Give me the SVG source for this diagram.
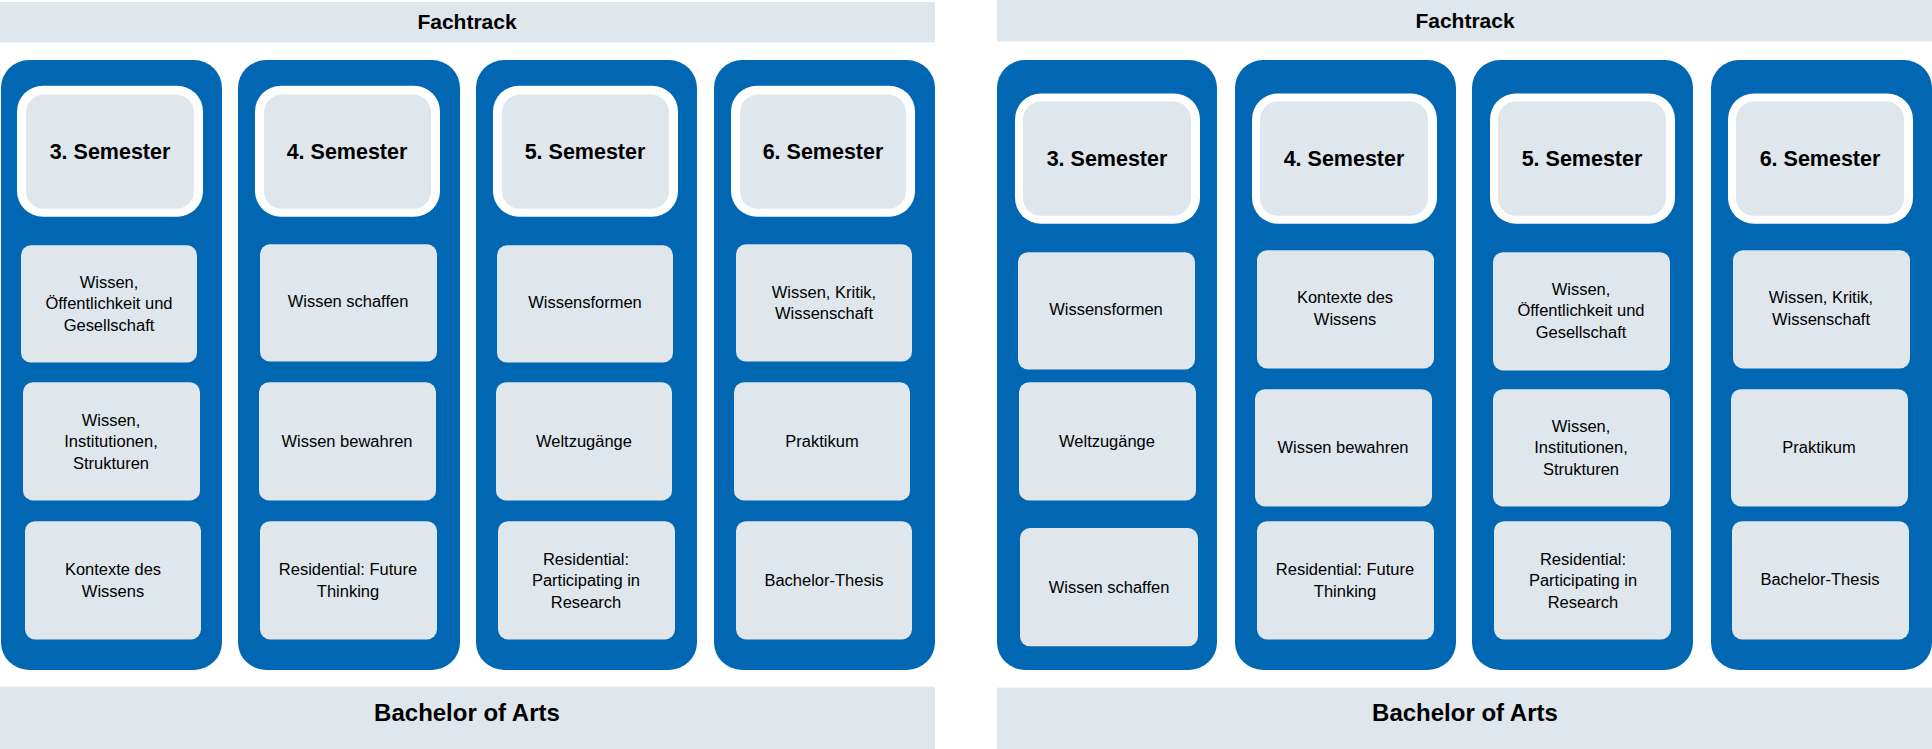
<svg xmlns="http://www.w3.org/2000/svg" width="1932" height="749" viewBox="0 0 1932 749">
<style>
.band{fill:#DFE6EC}
.col{fill:#0167B3}
.so{fill:#FFFFFF}
.si{fill:#DFE6EC}
.box{fill:#DFE6EC}
text{font-family:"Liberation Sans",Arial,sans-serif;fill:#000;text-anchor:middle}
.h{font-size:21px;font-weight:bold}
.b{font-size:24px;font-weight:bold}
.s{font-size:21.5px;font-weight:bold}
.t{font-size:16.5px}
</style>
<rect width="1932" height="749" fill="#fff"/>
<g transform="scale(1 0.9852)">
<g id="left">
<g id="L-top"><rect class="band" x="0" y="2" width="935" height="41"/><text class="h" x="467" y="29">Fachtrack</text></g>
<g id="L-bottom"><rect class="band" x="0" y="697" width="935" height="64"/><text class="b" x="467" y="732">Bachelor of Arts</text></g>
<rect class="col" x="1" y="61" width="221" height="619" rx="28"/>
<rect class="col" x="238" y="61" width="222" height="619" rx="28"/>
<rect class="col" x="476" y="61" width="221" height="619" rx="28"/>
<rect class="col" x="714" y="61" width="221" height="619" rx="28"/>
<g id="L-s3"><rect class="so" x="17" y="87" width="186" height="133" rx="26"/><rect class="si" x="26" y="96" width="168" height="116" rx="18"/><text class="s" x="110" y="161">3. Semester</text></g>
<g id="L-s4"><rect class="so" x="255" y="87" width="185" height="133" rx="26"/><rect class="si" x="264" y="96" width="167" height="116" rx="18"/><text class="s" x="347" y="161">4. Semester</text></g>
<g id="L-s5"><rect class="so" x="493" y="87" width="185" height="133" rx="26"/><rect class="si" x="502" y="96" width="167" height="116" rx="18"/><text class="s" x="585" y="161">5. Semester</text></g>
<g id="L-s6"><rect class="so" x="731" y="87" width="184" height="133" rx="26"/><rect class="si" x="740" y="96" width="166" height="116" rx="18"/><text class="s" x="823" y="161">6. Semester</text></g>
<g id="L-1a"><rect class="box" x="21" y="249" width="176" height="119" rx="10"/><text class="t" x="109" y="292">Wissen,</text><text class="t" x="109" y="314">Öffentlichkeit und</text><text class="t" x="109" y="336">Gesellschaft</text></g>
<g id="L-1b"><rect class="box" x="23" y="388" width="177" height="120" rx="10"/><text class="t" x="111" y="432">Wissen,</text><text class="t" x="111" y="454">Institutionen,</text><text class="t" x="111" y="476">Strukturen</text></g>
<g id="L-1c"><rect class="box" x="25" y="529" width="176" height="120" rx="10"/><text class="t" x="113" y="584">Kontexte des</text><text class="t" x="113" y="606">Wissens</text></g>
<g id="L-2a"><rect class="box" x="260" y="248" width="177" height="119" rx="10"/><text class="t" x="348" y="312">Wissen schaffen</text></g>
<g id="L-2b"><rect class="box" x="259" y="388" width="177" height="120" rx="10"/><text class="t" x="347" y="454">Wissen bewahren</text></g>
<g id="L-2c"><rect class="box" x="260" y="529" width="177" height="120" rx="10"/><text class="t" x="348" y="584">Residential: Future</text><text class="t" x="348" y="606">Thinking</text></g>
<g id="L-3a"><rect class="box" x="497" y="249" width="176" height="119" rx="10"/><text class="t" x="585" y="313">Wissensformen</text></g>
<g id="L-3b"><rect class="box" x="496" y="388" width="176" height="120" rx="10"/><text class="t" x="584" y="454">Weltzugänge</text></g>
<g id="L-3c"><rect class="box" x="498" y="529" width="177" height="120" rx="10"/><text class="t" x="586" y="573">Residential:</text><text class="t" x="586" y="595">Participating in</text><text class="t" x="586" y="617">Research</text></g>
<g id="L-4a"><rect class="box" x="736" y="248" width="176" height="119" rx="10"/><text class="t" x="824" y="302">Wissen, Kritik,</text><text class="t" x="824" y="324">Wissenschaft</text></g>
<g id="L-4b"><rect class="box" x="734" y="388" width="176" height="120" rx="10"/><text class="t" x="822" y="454">Praktikum</text></g>
<g id="L-4c"><rect class="box" x="736" y="529" width="176" height="120" rx="10"/><text class="t" x="824" y="595">Bachelor-Thesis</text></g>
</g>
<g id="right">
<g id="R-top"><rect class="band" x="997" y="0" width="935" height="42"/><text class="h" x="1465" y="28">Fachtrack</text></g>
<g id="R-bottom"><rect class="band" x="997" y="698" width="935" height="63"/><text class="b" x="1465" y="732">Bachelor of Arts</text></g>
<rect class="col" x="997" y="61" width="220" height="619" rx="28"/>
<rect class="col" x="1235" y="61" width="221" height="619" rx="28"/>
<rect class="col" x="1472" y="61" width="221" height="619" rx="28"/>
<rect class="col" x="1711" y="61" width="221" height="619" rx="28"/>
<g id="R-s3"><rect class="so" x="1015" y="95" width="185" height="132" rx="26"/><rect class="si" x="1023" y="103" width="168" height="116" rx="18"/><text class="s" x="1107" y="168">3. Semester</text></g>
<g id="R-s4"><rect class="so" x="1252" y="95" width="185" height="132" rx="26"/><rect class="si" x="1260" y="103" width="168" height="116" rx="18"/><text class="s" x="1344" y="168">4. Semester</text></g>
<g id="R-s5"><rect class="so" x="1490" y="95" width="185" height="132" rx="26"/><rect class="si" x="1498" y="103" width="168" height="116" rx="18"/><text class="s" x="1582" y="168">5. Semester</text></g>
<g id="R-s6"><rect class="so" x="1728" y="95" width="185" height="132" rx="26"/><rect class="si" x="1736" y="103" width="168" height="116" rx="18"/><text class="s" x="1820" y="168">6. Semester</text></g>
<g id="R-1a"><rect class="box" x="1018" y="256" width="177" height="119" rx="10"/><text class="t" x="1106" y="320">Wissensformen</text></g>
<g id="R-1b"><rect class="box" x="1019" y="388" width="177" height="120" rx="10"/><text class="t" x="1107" y="454">Weltzugänge</text></g>
<g id="R-1c"><rect class="box" x="1020" y="536" width="178" height="120" rx="10"/><text class="t" x="1109" y="602">Wissen schaffen</text></g>
<g id="R-2a"><rect class="box" x="1257" y="254" width="177" height="120" rx="10"/><text class="t" x="1345" y="308">Kontexte des</text><text class="t" x="1345" y="330">Wissens</text></g>
<g id="R-2b"><rect class="box" x="1255" y="395" width="177" height="119" rx="10"/><text class="t" x="1343" y="460">Wissen bewahren</text></g>
<g id="R-2c"><rect class="box" x="1257" y="529" width="177" height="120" rx="10"/><text class="t" x="1345" y="584">Residential: Future</text><text class="t" x="1345" y="606">Thinking</text></g>
<g id="R-3a"><rect class="box" x="1493" y="256" width="177" height="120" rx="10"/><text class="t" x="1581" y="299">Wissen,</text><text class="t" x="1581" y="321">Öffentlichkeit und</text><text class="t" x="1581" y="343">Gesellschaft</text></g>
<g id="R-3b"><rect class="box" x="1493" y="395" width="177" height="119" rx="10"/><text class="t" x="1581" y="438">Wissen,</text><text class="t" x="1581" y="460">Institutionen,</text><text class="t" x="1581" y="482">Strukturen</text></g>
<g id="R-3c"><rect class="box" x="1494" y="529" width="177" height="120" rx="10"/><text class="t" x="1583" y="573">Residential:</text><text class="t" x="1583" y="595">Participating in</text><text class="t" x="1583" y="617">Research</text></g>
<g id="R-4a"><rect class="box" x="1733" y="254" width="177" height="120" rx="10"/><text class="t" x="1821" y="308">Wissen, Kritik,</text><text class="t" x="1821" y="330">Wissenschaft</text></g>
<g id="R-4b"><rect class="box" x="1731" y="395" width="177" height="119" rx="10"/><text class="t" x="1819" y="460">Praktikum</text></g>
<g id="R-4c"><rect class="box" x="1732" y="529" width="177" height="120" rx="10"/><text class="t" x="1820" y="594">Bachelor-Thesis</text></g>
</g>
</g>
<g id="connectors"/>
</svg>
